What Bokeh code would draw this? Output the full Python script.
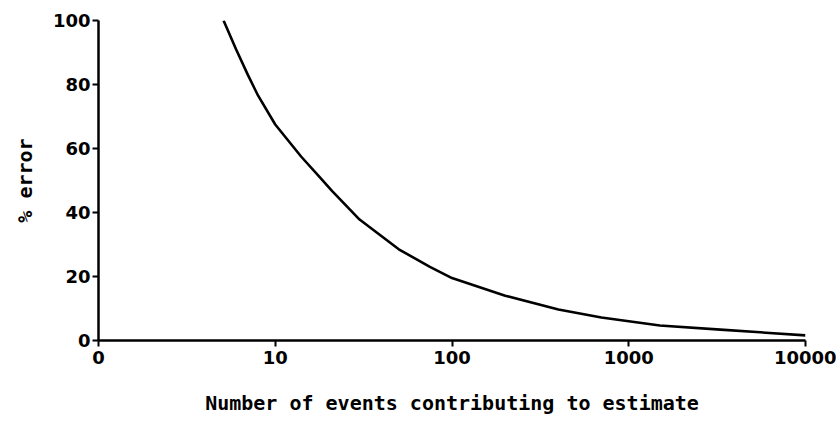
from bokeh.plotting import figure
from bokeh.models import FixedTicker, Range1d
from bokeh.embed import file_html
from bokeh.resources import INLINE

# Data
events = [5.1, 6, 7, 8, 10, 14, 18, 21, 30, 50, 75, 100, 200, 400, 700, 1500, 3300, 10000]
pct_error = [100, 91, 83, 76.5, 67.5, 57.5, 50.8, 46.7, 37.8, 28.5, 23, 19.5, 14, 9.7, 7.2, 4.7, 3.4, 1.6]
x_ticks = [1, 10, 100, 1000, 10000]
x_tick_labels = ["0", "10", "100", "1000", "10000"]
y_ticks = [0, 20, 40, 60, 80, 100]

FONT = "DejaVu Sans"
LABEL_FONT = "DejaVu Sans Mono"

p = figure(width=836, height=422, x_axis_type="log",
           x_range=Range1d(1, 10000), y_range=Range1d(0, 100),
           output_backend="svg", toolbar_location=None,
           min_border_left=98, min_border_right=31,
           min_border_top=20, min_border_bottom=82)
p.outline_line_color = None
p.grid.visible = False
p.background_fill_color = "white"
p.border_fill_color = "white"

p.line(events, pct_error, line_color="black", line_width=2.6)

for ax in (p.xaxis[0], p.yaxis[0]):
    ax.axis_line_color = "black"
    ax.axis_line_width = 2.5
    ax.major_tick_line_color = "black"
    ax.major_tick_line_width = 2
    ax.major_tick_out = 6
    ax.major_tick_in = 0
    ax.minor_tick_line_color = None
    ax.major_label_text_font = FONT
    ax.major_label_text_font_style = "bold"
    ax.major_label_text_font_size = "18px"
    ax.major_label_text_color = "black"
    ax.axis_label_text_font = LABEL_FONT
    ax.axis_label_text_font_style = "bold"
    ax.axis_label_text_font_size = "20px"
    ax.axis_label_text_color = "black"

p.xaxis.ticker = FixedTicker(ticks=x_ticks)
p.xaxis.major_label_overrides = {t: l for t, l in zip(x_ticks, x_tick_labels)}
p.xaxis.major_label_standoff = 4
p.xaxis.axis_label = "Number of events contributing to estimate"
p.xaxis.axis_label_standoff = 24

p.yaxis.ticker = FixedTicker(ticks=y_ticks)
p.yaxis.major_label_standoff = 2
p.yaxis.axis_label = "% error"
p.yaxis.axis_label_standoff = 13

open("out.html", "w").write(file_html(p, INLINE))
